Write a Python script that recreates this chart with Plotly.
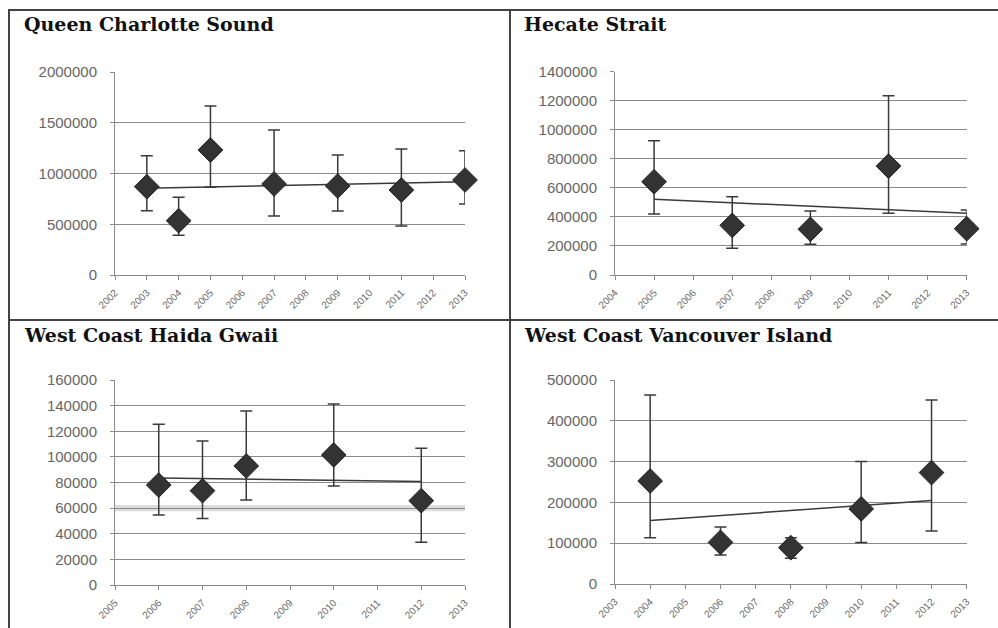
import numpy as np
import plotly.graph_objects as go

# ---------------- data ----------------
titles = ["Queen Charlotte Sound", "Hecate Strait", "West Coast Haida Gwaii", "West Coast Vancouver Island"]

qcs_years = [2003, 2004, 2005, 2007, 2009, 2011, 2013]
qcs_vals = [870000, 535000, 1231000, 897000, 877000, 837000, 936000]
qcs_hi = [1175000, 765000, 1665000, 1428000, 1182000, 1241000, 1225000]
qcs_lo = [633000, 391000, 864000, 581000, 630000, 483000, 700000]
qcs_cats = list(range(2002, 2014))

hs_years = [2005, 2007, 2009, 2011, 2013]
hs_vals = [642000, 342000, 315000, 750000, 319000]
hs_hi = [925000, 539000, 441000, 1235000, 448000]
hs_lo = [420000, 184000, 211000, 425000, 213000]
hs_cats = list(range(2004, 2014))

hg_years = [2006, 2007, 2008, 2010, 2012]
hg_vals = [78000, 73600, 92900, 101500, 65800]
hg_hi = [125400, 112400, 135800, 141300, 106700]
hg_lo = [54600, 52000, 66300, 77300, 33300]
hg_cats = list(range(2005, 2014))

vi_years = [2004, 2006, 2008, 2010, 2012]
vi_vals = [252500, 102000, 89000, 184000, 273000]
vi_hi = [463000, 140000, 113500, 300000, 451000]
vi_lo = [113500, 71000, 63000, 102000, 130000]
vi_cats = list(range(2003, 2014))

y_max = [2000000, 1400000, 160000, 500000]
y_step = [500000, 200000, 20000, 100000]

panels = [
    (qcs_years, qcs_vals, qcs_hi, qcs_lo, qcs_cats),
    (hs_years, hs_vals, hs_hi, hs_lo, hs_cats),
    (hg_years, hg_vals, hg_hi, hg_lo, hg_cats),
    (vi_years, vi_vals, vi_hi, vi_lo, vi_cats),
]

# ---------------- layout geometry (pixels) ----------------
W, H = 998, 628
px_x = [(115, 465), (615, 966.7), (115, 465), (615, 966.7)]
px_y = [(275, 72), (275, 71.7), (585, 380), (584, 380)]  # (zero, top)
title_pos = [(22, 24), (522, 24), (22, 335), (522, 335)]

fig = go.Figure()
GRID = "#8a8a8a"
DARK = "#333333"

for i, (yrs, vals, hi, lo, cats) in enumerate(panels):
    xa = "x" if i == 0 else f"x{i+1}"
    ya = "y" if i == 0 else f"y{i+1}"
    yrs_a = np.array(yrs, dtype=float)
    v = np.array(vals, dtype=float)
    # linear trendline (as Excel)
    k, b = np.polyfit(yrs_a, v, 1)
    tx = np.array([yrs_a.min(), yrs_a.max()])
    fig.add_trace(go.Scatter(x=tx, y=k * tx + b, mode="lines",
                             line=dict(color="#3a3a3a", width=1.5),
                             xaxis=xa, yaxis=ya, showlegend=False, hoverinfo="skip"))
    fig.add_trace(go.Scatter(
        x=yrs, y=vals, mode="markers",
        marker=dict(symbol="diamond", size=19, color=DARK,
                    line=dict(color="#222222", width=1)),
        error_y=dict(type="data", symmetric=False,
                     array=list(np.array(hi) - v), arrayminus=list(v - np.array(lo)),
                     color="#3a3a3a", thickness=1.5, width=6),
        cliponaxis=False, xaxis=xa, yaxis=ya, showlegend=False))

    x0, x1 = px_x[i]
    yz, yt = px_y[i]
    sfx = "" if i == 0 else str(i + 1)
    fig.layout["xaxis" + sfx] = dict(
        domain=[x0 / W, x1 / W], anchor=ya, range=[cats[0], cats[-1]],
        tickvals=cats, ticktext=[str(c) for c in cats], tickangle=-45,
        tickfont=dict(family="Liberation Sans", size=10, color="#6a6a6a"),
        showgrid=False, zeroline=False, showline=True, linecolor=GRID, linewidth=1,
        ticks="outside", ticklen=4, tickcolor=GRID, fixedrange=True, automargin=False,
        ticklabelstandoff=3)
    fig.layout["yaxis" + sfx] = dict(
        domain=[(H - yz) / H, (H - yt) / H], anchor=xa, range=[0, y_max[i]],
        dtick=y_step[i], tick0=0, tickformat="d",
        tickfont=dict(family="Liberation Sans", size=15, color="#666666"),
        showgrid=True, gridcolor=GRID, gridwidth=1, zeroline=False,
        showline=True, linecolor=GRID, linewidth=1,
        ticks="outside", ticklen=4, tickcolor=GRID, fixedrange=True, automargin=False,
        ticklabelstandoff=10)

    tx_, ty_ = title_pos[i]
    fig.add_annotation(text=titles[i], xref="paper", yref="paper",
                       x=tx_ / W, y=(H - ty_) / H, xanchor="left", yanchor="middle",
                       showarrow=False,
                       font=dict(family="DejaVu Serif", size=19, color="#111111",
                                 weight="bold"))

# faint highlighted band on the 60000 gridline of the Haida Gwaii panel
fig.add_shape(type="rect", xref="x3", yref="y3", x0=hg_cats[0], x1=hg_cats[-1],
              y0=57500, y1=62500, fillcolor="#dcdcdc", line=dict(width=0), layer="below")

# panel frame lines
BORDER = "#444444"
def pline(x0, y0, x1, y1):
    fig.add_shape(type="line", xref="paper", yref="paper",
                  x0=x0 / W, y0=(H - y0) / H, x1=x1 / W, y1=(H - y1) / H,
                  line=dict(color=BORDER, width=2))

pline(8, 10, 998, 10)
pline(9, 10, 9, 628)
pline(510, 10, 510, 628)
pline(8, 320, 998, 320)

fig.update_layout(width=W, height=H,
                  margin=dict(l=0, r=0, t=0, b=0, pad=0, autoexpand=False),
                  paper_bgcolor="white", plot_bgcolor="white")

fig.write_html("out.html")
